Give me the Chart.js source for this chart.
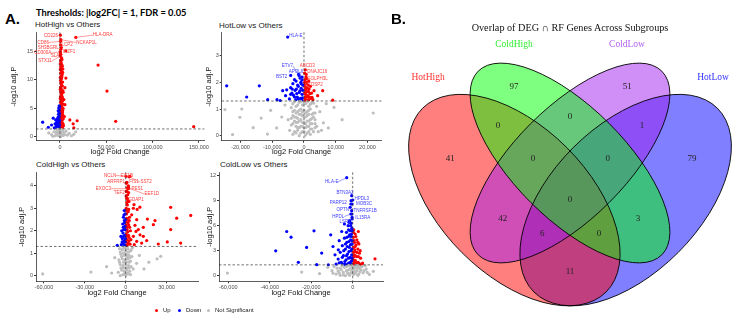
<!DOCTYPE html>
<html>
<head>
<meta charset="utf-8">
<script src="https://cdn.jsdelivr.net/npm/chart.js@4.4.1/dist/chart.umd.min.js"></script>
<style>
  body { margin: 0; background: #fff; }
  #page { position: relative; width: 742px; height: 315px; overflow: hidden; font-family: "Liberation Sans", Arial, sans-serif; color: #1a1a1a; }
  .box { position: absolute; }
  .txt { position: absolute; white-space: nowrap; line-height: 1; }
  .ser { font-family: "Liberation Serif", "Times New Roman", serif; }
  .ctr { transform: translateX(-50%); }
  .dot { position: absolute; width: 3px; height: 3px; border-radius: 50%; }
</style>
</head>
<body>
<div id="page">
  <div class="txt" style="left:5px;top:10.5px;font-size:15px;font-weight:bold;color:#000">A.</div>
  <div class="txt" style="left:36px;top:7px;font:bold 9.3px Lato;color:#000">Thresholds: |log2FC| = 1, FDR = 0.05</div>
  <div class="txt" style="left:35px;top:21px;font-size:8px">HotHigh vs Others</div>
  <div class="txt" style="left:219px;top:22px;font-size:8px">HotLow vs Others</div>
  <div class="txt" style="left:36px;top:161px;font-size:8px">ColdHigh vs Others</div>
  <div class="txt" style="left:220px;top:161px;font-size:8px">ColdLow vs Others</div>

  <div class="box" style="left:0;top:28px;width:210px;height:130px"><canvas id="hotHigh"></canvas></div>
  <div class="box" style="left:184px;top:28px;width:201px;height:130px"><canvas id="hotLow"></canvas></div>
  <div class="box" style="left:0;top:168px;width:205px;height:130px"><canvas id="coldHigh"></canvas></div>
  <div class="box" style="left:184px;top:168px;width:201px;height:130px"><canvas id="coldLow"></canvas></div>

  <div class="dot" style="left:155px;top:308.5px;background:#ff0000"></div>
  <div class="txt" style="left:163px;top:307px;font-size:6px">Up</div>
  <div class="dot" style="left:178px;top:308.5px;background:#0000ff"></div>
  <div class="txt" style="left:186px;top:307px;font-size:6px">Down</div>
  <div class="dot" style="left:207px;top:308.5px;background:#bebebe"></div>
  <div class="txt" style="left:215px;top:307px;font-size:6px">Not Significant</div>

  <div class="txt" style="left:391px;top:11px;font-size:15px;font-weight:bold;color:#000">B.</div>
  <div class="box" style="left:390px;top:0;width:352px;height:315px"><canvas id="venn"></canvas></div>
  <div class="txt ser ctr" style="left:570px;top:22.5px;font-size:10.2px;color:#111">Overlap of DEG ∩ RF Genes Across Subgroups</div>
  <div class="txt ser ctr" style="left:428px;top:73px;font-size:9.5px;color:#ff3030">HotHigh</div>
  <div class="txt ser ctr" style="left:514px;top:40px;font-size:9.5px;color:#30ee30">ColdHigh</div>
  <div class="txt ser ctr" style="left:627px;top:40px;font-size:9.5px;color:#b060f0">ColdLow</div>
  <div class="txt ser ctr" style="left:713px;top:73px;font-size:9.5px;color:#3030ff">HotLow</div>
</div>
<script>
// each point: [log2 fold change, -log10 adj.P]
const hotHighUp = [
  [600,1.4],[2100,1.5],[1200,1.7],[3200,1.8],[800,2.0],[1900,2.1],[2800,2.3],[500,2.5],[1500,2.6],[2400,2.8],
  [900,3.0],[3600,3.1],[1700,3.3],[600,3.5],[2600,3.6],[1200,3.9],[2000,4.1],[700,4.4],[3000,4.5],[1500,4.7],
  [900,5.0],[2300,5.2],[1300,5.5],[3300,5.7],[700,6.0],[1800,6.2],[1100,6.5],[2700,6.8],[600,7.0],[1600,7.3],
  [2200,7.6],[900,7.9],[3100,8.1],[1400,8.4],[700,8.7],[2000,9.0],[1200,9.3],[2900,9.6],[800,9.9],[1700,10.2],
  [1100,10.6],[2400,10.9],[700,11.2],[1500,11.6],[3200,11.9],[900,12.3],[2000,12.7],[1300,13.0],[800,13.5],[1700,13.9],
  [500,14.2],[1000,14.5],[500,15.0],[1000,15.4],[1500,15.7],[700,16.2],[800,16.8],[1000,17.1],[500,17.9],
  [200,1.35],[1400,1.45],[2700,1.55],[400,1.8],[1700,1.95],[3300,2.2],[1100,2.3],[200,2.9],[2000,3.2],[3000,3.8],
  [400,4.0],[2700,4.2],[1100,4.6],[3500,4.9],[200,5.3],[1800,5.9],[2900,6.3],[400,6.7],[2200,7.1],[1200,7.5],
  [3500,7.8],[400,8.3],[2600,8.9],[1000,9.6],[400,10.4],[2100,10.5],[3000,11.3],[500,11.8],[1200,12.0],[2600,12.4],
  [400,12.8],[1000,13.3],[2200,13.6],[400,14.8],
  [6400,15.1],[17200,17.5],[6450,10.3],[5400,8.6],[4300,6.5],[5400,5.6],[41200,12.6],[50800,8.0],[60200,2.65],
  [10750,2.9],[18600,2.75],[14300,2.2],[15000,1.5],[144400,1.7],[4800,3.5],[3800,1.9]
];
const hotHighDown = [
  [-600,1.4],[-1800,1.6],[-3200,1.5],[-1000,1.9],[-2500,2.1],[-4000,1.8],[-800,2.4],[-1600,2.7],[-3000,2.6],[-5200,2.2],
  [-1200,3.0],[-2200,3.3],[-700,3.6],[-1500,3.9],[-1000,4.3],[-600,4.7],[-1300,5.0],[-800,5.4],[-7200,3.2],[-12500,1.6],
  [-18600,2.5],[-9000,2.0],[-6000,1.5],[-4500,2.9],
  [-300,1.35],[-1400,1.45],[-2400,1.7],[-400,2.0],[-1900,2.3],[-3600,2.4],[-300,2.8],[-1000,3.4],[-2700,3.0],[-400,4.0],
  [-1800,4.5],[-400,5.2]
];
const hotHighNs = [
  [-9000,0.3],[-6500,0.8],[-5000,0.1],[-4000,0.5],[-3000,1.1],[-2500,0.2],[-2000,0.7],[-1500,0.4],[-1000,1.0],[-800,0.1],
  [-500,0.6],[-200,0.3],[0,0.9],[300,0.05],[600,0.5],[900,1.2],[1300,0.2],[1800,0.7],[2300,0.4],[2800,1.0],
  [3500,0.15],[4200,0.6],[5000,0.3],[6500,0.9],[8000,0.2],[10000,0.5],[12500,0.1],[15000,0.35],[17000,0.8],[-12000,0.6],
  [-7500,0.0],[-3500,0.85],[1000,0.0],[-1200,0.25],[2000,1.15],[-300,1.2],[400,0.75],[-2200,1.25]
];
const hotHighXTicks = [0, 50000, 100000, 150000];
const hotHighYTicks = [0, 5, 10, 15];

const hotLowUp = [
  [420,2.47],[200,2.35],[300,2.09],[150,1.86],[3150,1.69],[2520,1.44],[5890,1.69],[9040,1.33],[600,2.20],[900,2.00],
  [400,1.95],[1300,1.90],[700,1.80],[1600,1.75],[300,1.70],[1000,1.65],[1900,1.58],[500,1.55],[1200,1.50],[800,1.45],
  [2200,1.40],[300,1.38],[1500,1.35],[600,1.32],[1100,1.78],[2000,1.85],[4300,1.50],
  [200,2.0],[900,2.15],[1500,2.05],[500,1.75],[1400,1.65],[2400,1.6],[400,1.45],[1700,1.45],[2800,1.35],[1000,1.33],
  [200,1.6],[700,2.3]
];
const hotLowDown = [
  [-5140,3.70],[-24350,1.87],[-14070,1.87],[-18050,1.45],[-11440,1.35],[-4190,2.26],[-6710,1.69],[-5450,1.72],[-630,2.09],[-1260,2.16],
  [-2500,2.05],[-3500,1.95],[-1800,1.85],[-900,1.78],[-4200,1.80],[-2800,1.70],[-1500,1.62],[-600,1.55],[-3300,1.52],[-2100,1.45],
  [-1100,1.40],[-4600,1.38],[-2600,1.35],[-700,1.33],[-5800,1.50],[-7500,1.32],[-3800,1.60],[-1700,2.30],[-900,1.95],[-400,1.70],
  [-2300,1.58],[-8500,1.35],[-600,2.20],
  [-3000,2.1],[-2000,1.9],[-1000,2.0],[-3700,1.75],[-2400,1.75],[-1300,1.68],[-400,1.9],[-3000,1.45],[-1800,1.38],[-500,1.42],
  [-4200,1.55],[-1500,2.25]
];
const hotLowNs = [
  [-24900,0.98],[-22500,0.04],[-20200,0.69],[-19600,1.0],[-13500,0.66],[-11500,0.06],[-8600,0.29],[6100,0.48],[7660,0.29],[9450,1.06],
  [21800,0.85],[-10500,0.95],[-7000,0.7],[-6000,1.15],[5000,0.9],[7000,1.2],[12000,0.6],[-16000,0.3],
  [-3500,1.2],[-2500,1.1],[-1500,1.25],[-500,1.15],[500,1.2],[1500,1.1],[2500,1.25],[-3000,0.95],[-2000,0.9],[-1000,1.0],
  [0,0.95],[1000,0.9],[2000,1.0],[3000,0.85],[-3500,0.75],[-2500,0.7],[-1500,0.8],[-500,0.75],[500,0.7],[1500,0.8],
  [2500,0.65],[3500,0.6],[-3000,0.55],[-2000,0.5],[-1000,0.6],[0,0.5],[1000,0.55],[2000,0.45],[-4000,0.4],[-2500,0.35],
  [-1500,0.3],[-500,0.35],[500,0.3],[1500,0.35],[2500,0.25],[3500,0.3],[-3000,0.15],[-2000,0.2],[-1000,0.1],[0,0.15],
  [1000,0.1],[2000,0.05],[-1500,0.0],[500,0.02],[4500,0.15],[-4500,0.2],
  [-4000,1.05],[-3000,1.28],[-2000,1.15],[-1000,1.28],[0,1.22],[1000,1.27],[2000,1.18],[3000,1.22],[4000,1.1],[-3500,0.9],
  [-2500,0.85],[-1500,0.95],[-500,0.9],[500,0.85],[1500,0.95],[2500,0.8],[3500,0.85],[-4000,0.65],[-3000,0.7],[-2000,0.65],
  [-1000,0.8],[0,0.7],[1000,0.75],[2000,0.6],[3000,0.7],[-3500,0.45],[-2500,0.5],[-1500,0.55],[-500,0.5],[500,0.45],
  [1500,0.55],[2500,0.45],[3500,0.45],[-2000,0.3],[-1000,0.35],[0,0.3],[1000,0.35],[2000,0.25],[3000,0.15],[-2500,0.1],
  [-500,0.15],[1500,0.15],[-3500,0.05],[4000,0.35],[-5000,0.6],[5500,0.2]
];
const hotLowXTicks = [-20000, -10000, 0, 10000, 20000];
const hotLowYTicks = [0, 1, 2, 3];

const coldHighUp = [
  [500,1.35],[1800,1.45],[3200,1.40],[900,1.6],[2500,1.7],[400,1.85],[1500,1.95],[3500,2.0],[800,2.15],[2200,2.25],
  [300,2.4],[1300,2.5],[2800,2.6],[600,2.75],[1800,2.85],[400,3.0],[1200,3.15],[2400,3.3],[700,3.45],[1500,3.6],
  [400,3.75],[1000,3.9],[1900,4.0],[500,4.12],[3150,4.42],[200,4.42],[300,4.12],[900,4.15],[2500,4.4],[1900,3.87],
  [2000,3.95],[800,3.75],[2200,3.9],[1100,3.45],
  [200,1.5],[1200,1.38],[2400,1.55],[3800,1.6],[700,1.75],[2000,1.8],[1000,2.05],[2900,2.15],[300,2.25],[1700,2.35],
  [2600,2.45],[800,2.55],[300,2.9],[2200,2.95],[800,3.25],[1600,3.35],[300,3.55],[2100,3.7],
  [5600,3.0],[8400,2.95],[10400,3.05],[15900,2.52],[21500,2.45],[20300,2.27],[33000,3.04],[37400,2.56],[47700,2.68],[33000,2.05],
  [30500,1.5],[23900,1.41],[40300,1.45],[12900,2.15],[9250,2.05],[6800,2.24],[7550,1.97],[10500,1.82],[5600,1.75],[12900,1.75],
  [15400,1.56],[8070,1.53],[11700,1.45],[6300,1.38],[4400,2.71],[8070,2.49],[6100,3.16]
];
const coldHighDown = [
  [-600,1.35],[-1800,1.42],[-3200,1.38],[-6200,1.35],[-1200,1.55],[-2500,1.65],[-800,1.8],[-2000,1.9],[-3500,1.75],[-1400,2.05],
  [-600,2.2],[-2200,2.3],[-1000,2.45],[-1700,2.6],[-500,2.75],[-1100,2.9],[-2900,2.0],[-400,1.5],
  [-300,1.65],[-1500,1.75],[-2600,1.5],[-400,2.05],[-1800,2.15],[-800,2.35],[-1300,2.7],[-300,2.5]
];
const coldHighNs = [
  [-60900,0.08],[-25500,0.16],[25700,0.86],[23000,0.75],[13400,0.3],[-10300,0.12],[-14000,0.4],[10000,0.9],[8000,0.55],[17000,0.6],
  [-8000,0.8],[-4500,1.2],[-2500,1.15],[-500,1.25],[1500,1.2],[3500,1.1],[5000,1.25],[-3500,0.95],[-1500,1.0],[500,0.95],
  [2500,0.9],[4500,0.85],[-5000,0.7],[-2500,0.75],[-500,0.7],[1500,0.75],[3500,0.65],[-4000,0.5],[-2000,0.45],[0,0.5],
  [2000,0.45],[4000,0.4],[-3000,0.25],[-1000,0.2],[1000,0.25],[3000,0.2],[5500,0.3],[-2000,0.05],[0,0.02],[2000,0.08],[-5500,0.15],
  [-4000,1.05],[-2000,1.2],[0,1.1],[2000,1.05],[4000,1.15],[-3000,0.85],[-1000,0.9],[1000,0.85],[3000,0.8],[-4500,0.6],
  [-1500,0.6],[500,0.6],[2500,0.6],[-3500,0.35],[-1500,0.35],[500,0.35],[2500,0.35],[-500,0.1],[1500,0.1],[3500,0.05],[-4000,0.0]
];
const coldHighXTicks = [-60000, -30000, 0, 30000];
const coldHighYTicks = [0, 1, 2, 3, 4];

const coldLowUp = [
  [2700,5.3],[10750,2.03],[4800,1.52],[500,5.5],[1200,5.0],[300,4.6],[2000,4.3],[800,4.0],[1600,3.7],[400,3.4],
  [2500,3.2],[1000,2.9],[3200,2.7],[600,2.5],[1800,2.3],[3800,2.1],[300,1.9],[1300,1.8],[2600,1.6],[700,1.5],
  [2000,1.4],[4200,1.35],[1100,1.32],[3000,3.8],[200,2.2],
  [300,5.2],[1500,4.7],[600,4.2],[2500,4.0],[1200,3.5],[2000,2.8],[300,2.8],[1200,2.4],[2700,2.3],[500,1.7],
  [1600,1.5],[3200,1.45],[300,1.35],[1000,3.1],[3600,3.0]
];
const coldLowDown = [
  [-2900,11.76],[-500,9.6],[-800,9.0],[-300,8.6],[-1200,8.2],[-500,7.8],[-900,7.4],[-300,7.0],[-1500,6.6],[-700,6.3],
  [-2200,6.0],[-400,5.7],[-1300,5.4],[-3000,5.2],[-600,5.0],[-2000,4.7],[-4000,4.5],[-1000,4.3],[-2800,4.0],[-500,3.8],
  [-5000,3.6],[-1700,3.4],[-3500,3.2],[-800,3.0],[-6000,2.8],[-2500,2.6],[-4500,2.4],[-1200,2.2],[-7000,2.0],[-3200,1.9],
  [-500,1.8],[-5500,1.6],[-2000,1.5],[-8000,1.4],[-3800,1.35],[0,9.08],
  [-300,6.8],[-1000,6.0],[-300,5.4],[-2000,5.5],[-700,4.7],[-1500,4.9],[-2800,4.6],[-300,4.2],[-1800,4.1],[-3500,3.8],
  [-1100,3.7],[-2600,3.5],[-400,3.2],[-4300,3.0],[-1800,2.9],[-3000,2.4],[-500,2.5],[-5000,2.2],[-2000,2.1],[-300,2.1],
  [-3800,1.7],[-1200,1.6],[-6500,1.55],[-2600,1.35],[-700,1.35],[-4800,1.35],[-300,3.8],[-1800,6.4],[-400,7.4],[-900,8.6],
  [-31800,5.3],[-29700,4.62],[-18650,5.38],[-37100,2.98],[-22200,3.39],[-26200,1.6],[-17350,1.32],[-11760,1.31],[-10600,4.9],[-14950,2.71],
  [-6940,3.1],[-8530,2.5],[-5300,5.3],[-4000,6.2],[-6500,4.2],[-9500,3.5]
];
const coldLowNs = [
  [-60400,0.32],[-24600,0.44],[9930,0.53],[-10000,0.6],[-8000,0.2],[-6000,0.9],[-4500,0.4],[-3000,1.1],[-2000,0.7],[-1000,0.3],
  [0,1.0],[1000,0.5],[2000,0.9],[3000,0.2],[4000,0.7],[5000,0.35],[6500,0.8],[8000,0.15],[-5000,1.2],[-7000,0.55],
  [-1500,0.05],[500,0.15],[2500,1.2],[-3500,0.0],[-500,0.6],[1500,1.25],[3500,1.0],[-2500,0.35],[-12000,1.0],[-16000,0.25],
  [-9000,1.1],[-7500,0.9],[-6500,0.3],[-5500,0.7],[-4000,1.0],[-3000,0.6],[-2000,1.2],[-2000,0.2],[-1000,0.9],[-500,1.25],
  [0,0.4],[500,0.8],[1000,1.1],[1500,0.3],[2000,0.6],[3000,0.9],[3500,0.5],[4500,1.1],[5500,0.6],[7000,0.4],
  [-4500,0.1],[-9500,0.3],[6000,1.2],[2500,0.05],[-6000,0.05]
];
const coldLowXTicks = [-60000, -40000, -20000, 0];
const coldLowYTicks = [0, 3, 6, 9, 12];

// gene labels: [name, point x, point y, label x, label y]
const hotHighLabels = [
  ['CD226',500,17.9,-9700,17.8],['HLA-DRA',17200,17.5,46200,17.9],['CD86',800,16.8,-18000,16.6],
  ['NCKAP1L',1000,17.1,28700,16.6],['LCP2',1500,15.7,7850,16.2],['SH3BGRL',1000,15.4,-12600,15.7],
  ['IKZF1',6400,15.1,10000,14.9],['CD300A',500,15.0,-18600,14.7],['SLA',1000,14.5,-5400,14.3],['STX11',500,14.2,-16100,13.3]
];
const hotLowLabels = [
  ['HLA-E',-5140,3.70,-2520,3.76,'d'],['ETV7',-630,2.09,-5260,2.62,'d'],['APOL6',-1260,2.16,-2520,2.40,'d'],
  ['BST2',-4190,2.26,-7020,2.21,'d'],['ABCD3',420,2.47,1040,2.62,'u'],['DNAJC16',200,2.35,4190,2.39,'u'],
  ['GOLPH3L',300,2.09,4190,2.13,'u'],['CTDSP2',150,1.86,3150,1.90,'u']
];
const coldHighLabels = [
  ['NCLN',200,4.42,-11500,4.46],['EIF1B',3150,4.42,700,4.46],['ARFRP1',300,4.12,-7100,4.16],['FIS1',900,4.15,6100,4.16],
  ['SST2',2500,4.4,14900,4.16],['EXOC3',1900,3.87,-16400,3.87],['PES1',2000,3.95,8500,3.87],['TEF2',800,3.75,-4700,3.69],
  ['EEF1D',2200,3.9,19100,3.63],['GDAP1',1100,3.45,7560,3.38]
];
const coldLowLabels = [
  ['HLA-E',-2900,11.76,-10100,11.28,'d'],['BTN3A2',-500,9.6,-3700,10.0,'d'],['HPDL3',0,9.08,4340,9.28,'d'],
  ['PARP12',-800,9.0,-6940,8.69,'d'],['MOB3C',-300,8.6,5450,8.57,'d'],['OPTN',-1200,8.2,-4820,7.89,'d'],
  ['TNFRSF1B',-500,7.8,5930,7.77,'d'],['HPDL',-900,7.4,-6940,7.1,'d'],['IL15RA',-300,7.0,4820,6.98,'d'],['LSP1',-1500,6.6,-3700,6.42,'d']
];

const padjCut = -Math.log10(0.05);

// venn: set names and region counts
const vennSets = ['HotHigh', 'ColdHigh', 'ColdLow', 'HotLow'];
const vennRegions = ['HotHigh', 'ColdHigh', 'ColdLow', 'HotLow', 'HotHigh&ColdHigh', 'ColdHigh&ColdLow', 'ColdLow&HotLow',
  'HotHigh&ColdHigh&ColdLow', 'ColdHigh&ColdLow&HotLow', 'HotHigh&ColdLow', 'all', 'ColdHigh&HotLow',
  'HotHigh&ColdLow&HotLow', 'HotHigh&ColdHigh&HotLow', 'HotHigh&HotLow'];
const vennCounts = [41, 97, 51, 79, 0, 0, 1, 0, 0, 42, 0, 3, 6, 0, 11];

// layout (unit square, like VennDiagram's quad layout)
const vennShapes = {
  HotHigh:  { cx: 0.35, cy: 0.47, a: 0.35, b: 0.20, rot: 135, fill: 'rgba(255,0,0,0.5)' },
  ColdHigh: { cx: 0.50, cy: 0.57, a: 0.35, b: 0.15, rot: 135, fill: 'rgba(0,255,0,0.5)' },
  ColdLow:  { cx: 0.50, cy: 0.57, a: 0.35, b: 0.15, rot: 45,  fill: 'rgba(160,32,240,0.5)' },
  HotLow:   { cx: 0.65, cy: 0.47, a: 0.35, b: 0.20, rot: 45,  fill: 'rgba(0,0,255,0.5)' }
};
const vennDrawOrder = ['HotLow', 'HotHigh', 'ColdLow', 'ColdHigh'];
const vennLabelPos = [
  [0.177,0.583],[0.349,0.775],[0.654,0.775],[0.829,0.583],[0.306,0.672],[0.5,0.694],[0.694,0.672],
  [0.400,0.583],[0.602,0.583],[0.319,0.419],[0.5,0.470],[0.683,0.419],[0.425,0.379],[0.578,0.379],[0.5,0.276]
];

const tickFont = { family: 'Liberation Sans', size: 5.5 };
const axisFont = { family: 'Liberation Sans', size: 7.5 };
const toXY = arr => arr.map(p => ({ x: p[0], y: p[1] }));

const thresholdLines = {
  id: 'thresholdLines',
  afterDatasetsDraw(chart) {
    const { ctx, chartArea: a, scales: { x, y } } = chart;
    ctx.save();
    ctx.strokeStyle = '#333';
    ctx.lineWidth = 0.7;
    ctx.setLineDash([2.5, 2]);
    const py = y.getPixelForValue(padjCut);
    ctx.beginPath(); ctx.moveTo(a.left, py); ctx.lineTo(a.right, py); ctx.stroke();
    const px = x.getPixelForValue(0);
    ctx.beginPath(); ctx.moveTo(px, a.top); ctx.lineTo(px, a.bottom); ctx.stroke();
    ctx.restore();
  }
};

function volcano(id, up, down, ns, xTicks, yTicks, labels, lay) {
  const geneLabels = {
    id: 'geneLabels',
    afterDatasetsDraw(chart) {
      const { ctx, scales: { x, y } } = chart;
      ctx.save();
      ctx.font = '4.5px "Liberation Sans"';
      ctx.textAlign = 'center';
      ctx.textBaseline = 'middle';
      ctx.lineWidth = 0.5;
      labels.forEach(l => {
        const col = l[5] === 'd' ? '#3b3bff' : '#ff3b3b';
        const px = x.getPixelForValue(l[1]), py = y.getPixelForValue(l[2]);
        const lx = x.getPixelForValue(l[3]), ly = y.getPixelForValue(l[4]);
        const w = ctx.measureText(l[0]).width / 2;
        const ex = px < lx - w ? lx - w : (px > lx + w ? lx + w : px);
        if (Math.hypot(ex - px, ly - py) > 5) {
          ctx.strokeStyle = col;
          ctx.beginPath(); ctx.moveTo(px, py); ctx.lineTo(ex, ly); ctx.stroke();
        }
        ctx.fillStyle = col;
        ctx.fillText(l[0], lx, ly);
      });
      ctx.restore();
    }
  };
  return new Chart(document.getElementById(id), {
    type: 'scatter',
    data: {
      datasets: [
        { data: toXY(ns), backgroundColor: '#bebebe' },
        { data: toXY(down), backgroundColor: '#0000ff' },
        { data: toXY(up), backgroundColor: '#ff0000' }
      ]
    },
    options: {
      animation: false, responsive: true, maintainAspectRatio: false, events: [],
      layout: { autoPadding: false, padding: { left: 0, top: lay.top, right: lay.right, bottom: 0 } },
      elements: { point: { radius: 1.6, borderWidth: 0, hoverRadius: 1.6 } },
      plugins: { legend: { display: false }, tooltip: { enabled: false } },
      scales: {
        x: {
          type: 'linear', min: lay.xMin, max: lay.xMax,
          afterBuildTicks: s => { s.ticks = xTicks.map(v => ({ value: v })); },
          afterFit: s => { s.height = lay.xH; },
          grid: { drawOnChartArea: false, drawTicks: true, tickLength: 2, color: '#333' },
          border: { color: '#333', width: 0.8 },
          ticks: { font: tickFont, color: '#4d4d4d', padding: 1, maxRotation: 0, autoSkip: false,
                   callback: v => Number(v).toLocaleString('en-US') },
          title: { display: true, text: 'log2 Fold Change', font: axisFont, color: '#111', padding: { top: 0, bottom: lay.xTitlePad } }
        },
        y: {
          type: 'linear', min: lay.yMin, max: lay.yMax,
          afterBuildTicks: s => { s.ticks = yTicks.map(v => ({ value: v })); },
          afterFit: s => { s.width = lay.yW; },
          grid: { drawOnChartArea: false, drawTicks: true, tickLength: 2, color: '#333' },
          border: { color: '#333', width: 0.8 },
          ticks: { font: tickFont, color: '#4d4d4d', padding: 1, autoSkip: false },
          title: { display: true, text: '-log10 adj.P', font: axisFont, color: '#111', padding: { top: lay.yTitlePad, bottom: 0 } }
        }
      }
    },
    plugins: [thresholdLines, geneLabels]
  });
}

volcano('hotHigh', hotHighUp, hotHighDown, hotHighNs, hotHighXTicks, hotHighYTicks, hotHighLabels,
  { top: 4, right: 5, xH: 17.3, yW: 36, xMin: -25800, xMax: 155900, yMin: -0.78, yMax: 18.4, xTitlePad: 1.2, yTitlePad: 9.5 });
volcano('hotLow', hotLowUp, hotLowDown, hotLowNs, hotLowXTicks, hotLowYTicks, hotLowLabels,
  { top: 4, right: 3.6, xH: 17.3, yW: 37.7, xMin: -25920, xMax: 24380, yMin: -0.19, yMax: 3.88, xTitlePad: 1.2, yTitlePad: 20 });
volcano('coldHigh', coldHighUp, coldHighDown, coldHighNs, coldHighXTicks, coldHighYTicks, coldHighLabels,
  { top: 4, right: 6.9, xH: 16.7, yW: 36, xMin: -65800, xMax: 53100, yMin: -0.25, yMax: 4.6, xTitlePad: 1, yTitlePad: 17.5 });
volcano('coldLow', coldLowUp, coldLowDown, coldLowNs, coldLowXTicks, coldLowYTicks, coldLowLabels,
  { top: 4, right: 2, xH: 16.7, yW: 35, xMin: -64440, xMax: 14600, yMin: -0.67, yMax: 12.4, xTitlePad: 1, yTitlePad: 21 });

const vennPlugin = {
  id: 'venn',
  afterDatasetsDraw(chart) {
    const { ctx, scales: { x, y } } = chart;
    const geom = s => {
      const e = vennShapes[s];
      const cx = x.getPixelForValue(e.cx), cy = y.getPixelForValue(e.cy);
      return { cx, cy, rx: x.getPixelForValue(e.cx + e.a) - cx, ry: x.getPixelForValue(e.cx + e.b) - cx, rot: -e.rot * Math.PI / 180 };
    };
    ctx.save();
    vennDrawOrder.forEach(s => {
      const g = geom(s);
      ctx.beginPath(); ctx.ellipse(g.cx, g.cy, g.rx, g.ry, g.rot, 0, Math.PI * 2);
      ctx.fillStyle = vennShapes[s].fill; ctx.fill();
    });
    ctx.strokeStyle = '#000'; ctx.lineWidth = 0.9;
    vennDrawOrder.forEach(s => {
      const g = geom(s);
      ctx.beginPath(); ctx.ellipse(g.cx, g.cy, g.rx, g.ry, g.rot, 0, Math.PI * 2); ctx.stroke();
    });
    ctx.fillStyle = '#222';
    ctx.font = '9px "Liberation Serif"';
    ctx.textAlign = 'center'; ctx.textBaseline = 'middle';
    vennCounts.forEach((c, i) => {
      ctx.fillText(String(c), x.getPixelForValue(vennLabelPos[i][0]), y.getPixelForValue(vennLabelPos[i][1]));
    });
    ctx.restore();
  }
};

new Chart(document.getElementById('venn'), {
  type: 'scatter',
  data: { datasets: [{ label: 'regions', data: toXY(vennLabelPos), pointRadius: 0 }] },
  options: {
    animation: false, responsive: true, maintainAspectRatio: false, events: [],
    layout: { autoPadding: false, padding: 0 },
    plugins: { legend: { display: false }, tooltip: { enabled: false } },
    scales: {
      x: { type: 'linear', display: false, min: 0.01482, max: 0.96361 },
      y: { type: 'linear', display: false, min: 0.1603, max: 1.00935 }
    }
  },
  plugins: [vennPlugin]
});
</script>
</body>
</html>
